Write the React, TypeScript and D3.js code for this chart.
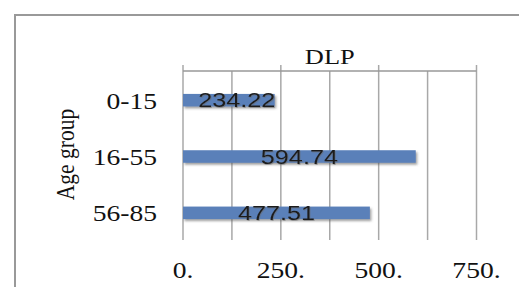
import React from 'react';
import * as d3 from 'd3';

const categories = ['0-15', '16-55', '56-85'];
const dlpValues = [234.22, 594.74, 477.51];
const majorTicks = [0, 250, 500, 750];
const minorTicks = [125, 375, 625];
const tickLabels = ['0.', '250.', '500.', '750.'];
const chartTitle = 'DLP';
const yTitle = 'Age group';

const W = 519;
const H = 287;
const SX = 1.2; // source picture is stretched horizontally

export default function App() {
  const x = d3.scaleLinear().domain([0, 750]).range([183, 476.5]);
  const y = d3.scaleBand().domain(categories).range([72, 241]).padding(0);
  const barH = 12.5;
  const serif = '"Liberation Serif", "Times New Roman", serif';
  const sans = '"Liberation Sans", Arial, sans-serif';
  const grid = '#a8a8a8';

  return (
    <svg width={W} height={H} style={{ position: 'absolute', left: 0, top: 0, background: '#fff' }}>
      <defs>
        <filter id="shadow" x="-5%" y="-40%" width="115%" height="200%">
          <feDropShadow dx="1.5" dy="2" stdDeviation="1.3" floodColor="#555" floodOpacity="0.55" />
        </filter>
        <filter id="tshadow" x="-10%" y="-20%" width="120%" height="150%">
          <feDropShadow dx="0.6" dy="0.8" stdDeviation="0.6" floodColor="#666" floodOpacity="0.6" />
        </filter>
      </defs>

      {/* outer border */}
      <path d={`M15,${H} V15 H${W}`} fill="none" stroke="#999" strokeWidth={2} />

      {/* grid */}
      {majorTicks.map(t => (
        <line key={'M' + t} x1={x(t)} x2={x(t)} y1={65} y2={240} stroke={grid} strokeWidth={1.5} />
      ))}
      {minorTicks.map(t => (
        <line key={'m' + t} x1={x(t)} x2={x(t)} y1={71} y2={240} stroke={grid} strokeWidth={1.5} />
      ))}
      <line x1={x(0)} x2={x(750)} y1={71} y2={71} stroke="#999" strokeWidth={1.5} />

      {/* title */}
      <text transform={`translate(${(x(0) + x(750)) / 2},64) scale(${SX},1)`} textAnchor="middle"
        fontFamily={serif} fontSize={22} fill="#111">{chartTitle}</text>

      {/* bars */}
      {categories.map((c, i) => {
        const cy = (y(c) as number) + y.bandwidth() / 2;
        return (
          <g key={c}>
            <rect x={x(0)} y={cy - barH / 2} width={x(dlpValues[i]) - x(0)} height={barH}
              fill="#5a80b9" filter="url(#shadow)" />
            <text transform={`translate(${(x(0) + x(dlpValues[i])) / 2 + (i === 0 ? 8 : 0)},${cy + 7}) scale(${SX},1)`}
              textAnchor="middle" fontFamily={sans} fontSize={21} fill="#1a1a1a" filter="url(#tshadow)">
              {dlpValues[i].toFixed(2)}
            </text>
            <text transform={`translate(157,${cy + 8.5}) scale(${SX},1)`} textAnchor="end"
              fontFamily={serif} fontSize={23} fill="#111">{c}</text>
          </g>
        );
      })}

      {/* x tick labels */}
      {majorTicks.map((t, i) => (
        <text key={'t' + t} transform={`translate(${x(t)},278) scale(${SX},1)`} textAnchor="middle"
          fontFamily={serif} fontSize={23} fill="#111">{tickLabels[i]}</text>
      ))}

      {/* y title */}
      <text transform={`translate(73.5,${(72 + 241) / 2 - 2}) scale(${SX},1) rotate(-90)`} textAnchor="middle"
        fontFamily={serif} fontSize={21.5} fill="#111">{yTitle}</text>
    </svg>
  );
}
